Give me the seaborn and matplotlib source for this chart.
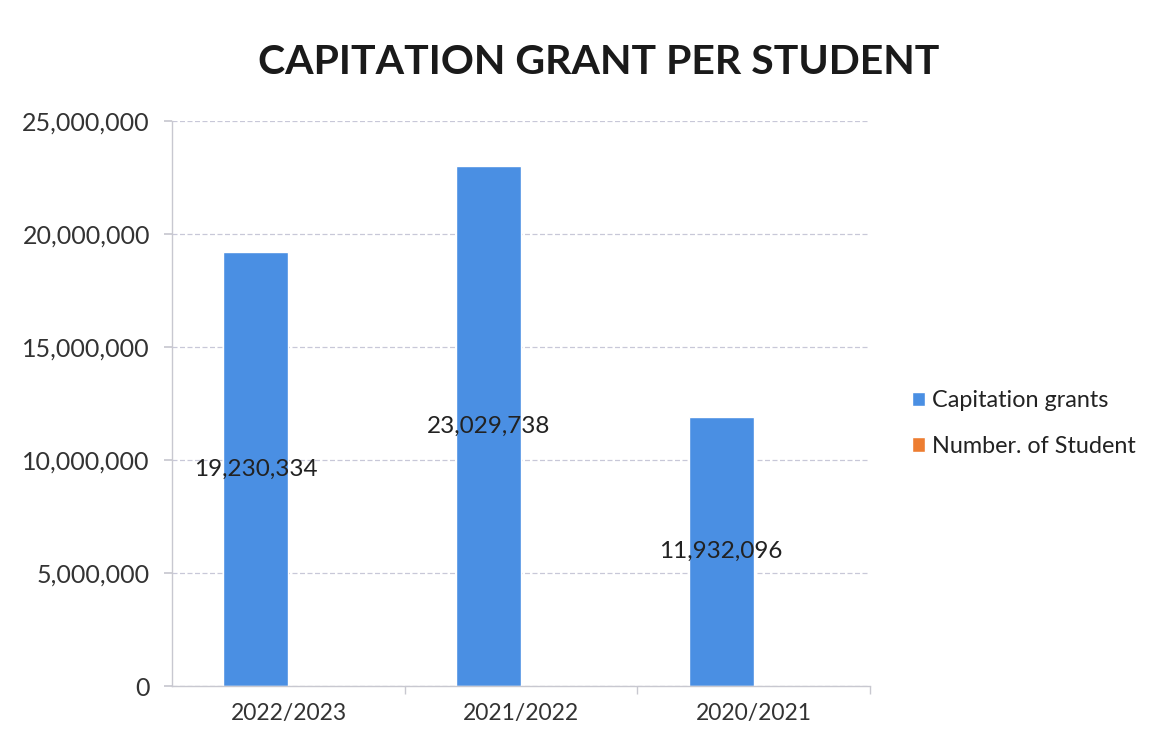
import pandas as pd
import seaborn as sns
import matplotlib.pyplot as plt
from matplotlib.ticker import FuncFormatter

# Data
years = ["2022/2023", "2021/2022", "2020/2021"]
capitation_grants = [19230334, 23029738, 11932096]
# student counts are too small to be seen on this scale
number_of_students = [1450, 1400, 1300]

series_names = ["Capitation grants", "Number. of Student"]
colors = ["#4a8fe3", "#ed7d31"]

df = pd.DataFrame({
    "year": years * 2,
    "value": capitation_grants + number_of_students,
    "series": [series_names[0]] * 3 + [series_names[1]] * 3,
})

sns.set_theme(style="white")
plt.rcParams["font.family"] = ["Lato", "DejaVu Sans"]

fig = plt.figure(figsize=(11.71, 7.49), dpi=100)
ax = fig.add_axes([0.147, 0.084, 0.596, 0.754])

sns.barplot(data=df, x="year", y="value", hue="series", order=years,
            hue_order=series_names, palette=colors, width=0.56,
            saturation=1, ax=ax)

# labels in the middle of the blue bars
for bar, v in zip(ax.containers[0], capitation_grants):
    ax.text(bar.get_x() + bar.get_width() / 2, v / 2, f"{v:,}",
            ha="center", va="center", fontsize=17.5, color="#222222")

ax.set_ylim(0, 25000000)
ax.set_xlim(-0.5, 2.5)
ax.set_yticks(range(0, 25000001, 5000000))
ax.yaxis.set_major_formatter(FuncFormatter(lambda v, p: f"{int(v):,}"))
ax.grid(axis="y", color="#c8c8d8", linestyle=(0, (4, 2)), linewidth=0.9)
ax.set_axisbelow(True)
ax.set_xlabel("")
ax.set_ylabel("")

for s in ["top", "right"]:
    ax.spines[s].set_visible(False)
for s in ["left", "bottom"]:
    ax.spines[s].set_color("#c8c8d0")
    ax.spines[s].set_linewidth(1)

ax.tick_params(axis="y", length=6, color="#c8c8d0", labelsize=18,
               labelcolor="#333333", left=True, pad=10)
ax.tick_params(axis="x", length=0, labelsize=16.5, labelcolor="#333333", pad=12)
# category boundary ticks on the x axis
ax.set_xticks([0.5, 1.5, 2.5], minor=True)
ax.tick_params(axis="x", which="minor", length=6, color="#c8c8d0", bottom=True)

ax.legend(loc="center left", bbox_to_anchor=(1.03, 0.465), frameon=False,
          fontsize=16.8, handlelength=0.55, handleheight=0.55, handletextpad=0.3,
          labelspacing=1.05, labelcolor="#222222")

fig.text(0.511, 0.917, "CAPITATION GRANT PER STUDENT", ha="center", va="center",
         fontsize=29.5, fontweight="bold", color="#1a1a1a")

fig.savefig("out.png", dpi=100, facecolor="white")
